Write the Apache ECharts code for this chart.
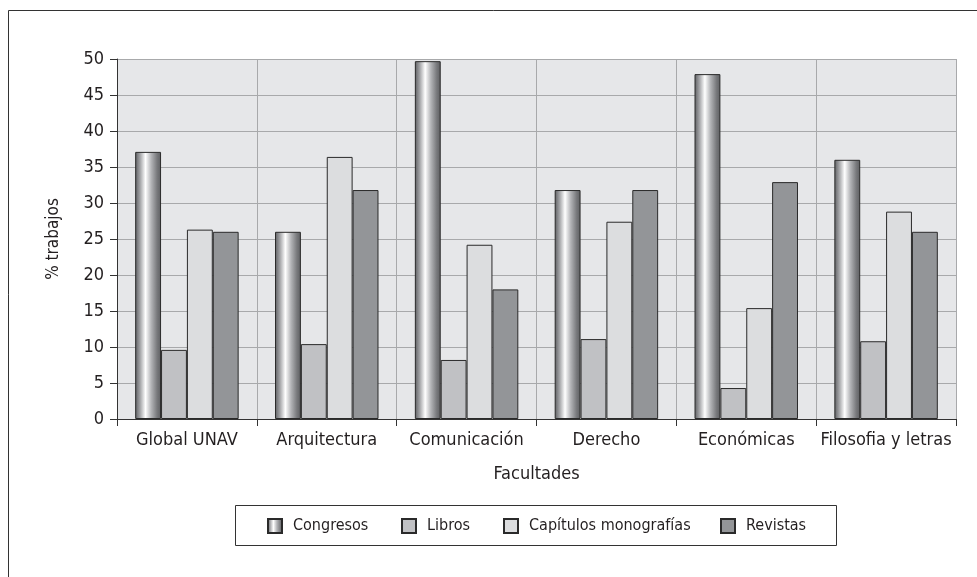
<!DOCTYPE html>
<html>
<head>
<meta charset="utf-8">
<script src="https://cdn.jsdelivr.net/npm/echarts@6/dist/echarts.min.js"></script>
<style>
  html, body { margin: 0; padding: 0; background: #fff; }
  #chart { width: 977px; height: 577px; }
</style>
</head>
<body>
<div id="chart"></div>
<script>
const facultades = ["Global UNAV", "Arquitectura", "Comunicación", "Derecho", "Económicas", "Filosofia y letras"];
const seriesNames = ["Congresos", "Libros", "Capítulos monografías", "Revistas"];
const congresos = [37.1, 26.0, 49.7, 31.8, 47.9, 36.0];
const libros = [9.6, 10.4, 8.2, 11.1, 4.3, 10.8];
const capitulos = [26.3, 36.4, 24.2, 27.4, 15.4, 28.8];
const revistas = [26.0, 31.8, 18.0, 31.8, 32.9, 26.0];

const font = '"DejaVu Sans Condensed", "DejaVu Sans", sans-serif';
const ink = "#231f20";

// cylinder look for the Congresos bars
const cylinder = new echarts.graphic.LinearGradient(0, 0, 1, 0, [
  { offset: 0, color: "#5c5d60" },
  { offset: 0.18, color: "#9fa0a3" },
  { offset: 0.4, color: "#ffffff" },
  { offset: 0.62, color: "#b3b4b7" },
  { offset: 0.85, color: "#77787b" },
  { offset: 1, color: "#5e5f62" },
]);

const barStyle = (color) => ({ color, borderColor: "#2a2a2a", borderWidth: 1 });

// one legend per item so the spacing follows the original
const legendLeft = [267, 401, 503, 720];
const legends = seriesNames.map((name, i) => ({
  left: legendLeft[i], top: 518,
  padding: 0,
  itemWidth: 14, itemHeight: 14,
  icon: "rect",
  selectedMode: false,
  textStyle: { fontFamily: font, fontSize: 16, color: ink, padding: [0, 0, 0, 6] },
  data: [name],
  z: 5,
}));

const chart = echarts.init(document.getElementById("chart"));
chart.setOption({
  animation: false,
  textStyle: { fontFamily: font },
  graphic: [
    {
      type: "rect",
      shape: { x: 8.5, y: 10.5, width: 1100, height: 700 },
      style: { fill: "none", stroke: "#333", lineWidth: 1 },
      z: -1,
    },
    {
      type: "rect",
      shape: { x: 235.5, y: 505.5, width: 601, height: 40 },
      style: { fill: "#fff", stroke: "#333", lineWidth: 1 },
      z: 0,
    },
  ],
  grid: {
    left: 117, right: 21, top: 59, bottom: 158,
    show: true, backgroundColor: "#e6e7e9", borderWidth: 0,
  },
  legend: legends,
  xAxis: {
    type: "category",
    data: facultades,
    name: "Facultades",
    nameLocation: "middle",
    nameGap: 46,
    nameTextStyle: { fontFamily: font, fontSize: 18, color: ink },
    axisLine: { lineStyle: { color: "#333" } },
    axisTick: { show: true, interval: 0, length: 7, lineStyle: { color: "#333" } },
    axisLabel: { interval: 0, fontFamily: font, fontSize: 18, color: ink, margin: 12 },
    splitLine: { show: true, interval: 0, lineStyle: { color: "#a8a9ab" } },
  },
  yAxis: {
    type: "value",
    min: 0, max: 50, interval: 5,
    name: "% trabajos",
    nameLocation: "middle",
    nameGap: 55,
    nameTextStyle: { fontFamily: font, fontSize: 17, color: ink },
    axisLine: { show: true, lineStyle: { color: "#333" } },
    axisTick: { show: true, length: 7, lineStyle: { color: "#333" } },
    axisLabel: { fontFamily: font, fontSize: 18, color: ink, margin: 13 },
    splitLine: { show: true, lineStyle: { color: "#a8a9ab" } },
  },
  series: [
    { name: seriesNames[0], type: "bar", data: congresos, barGap: "0%", barCategoryGap: "26%", itemStyle: barStyle(cylinder) },
    { name: seriesNames[1], type: "bar", data: libros, itemStyle: barStyle("#c0c1c4") },
    { name: seriesNames[2], type: "bar", data: capitulos, itemStyle: barStyle("#dcdddf") },
    { name: seriesNames[3], type: "bar", data: revistas, itemStyle: barStyle("#939598") },
  ],
});
</script>
</body>
</html>
